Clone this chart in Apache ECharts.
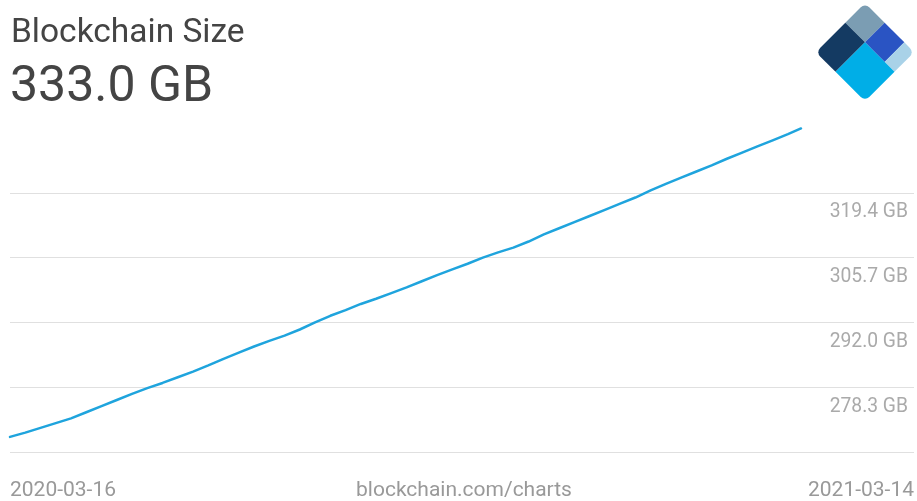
<!DOCTYPE html>
<html>
<head>
<meta charset="utf-8">
<script src="https://cdn.jsdelivr.net/npm/echarts@6/dist/echarts.min.js"></script>
<style>
  html, body { margin: 0; padding: 0; background: #ffffff; }
  #chart { width: 917px; height: 501px; }
</style>
</head>
<body>
<div id="chart"></div>
<script>
// Weekly samples of the Bitcoin blockchain size (GB)
const dates = [
  '2020-03-16', '2020-03-23', '2020-03-30', '2020-04-06', '2020-04-13', '2020-04-20', '2020-04-27',
  '2020-05-04', '2020-05-11', '2020-05-18', '2020-05-25', '2020-06-01', '2020-06-08', '2020-06-15',
  '2020-06-22', '2020-06-29', '2020-07-06', '2020-07-13', '2020-07-20', '2020-07-27', '2020-08-03',
  '2020-08-10', '2020-08-17', '2020-08-24', '2020-08-31', '2020-09-07', '2020-09-14', '2020-09-21',
  '2020-09-28', '2020-10-05', '2020-10-12', '2020-10-19', '2020-10-26', '2020-11-02', '2020-11-09',
  '2020-11-16', '2020-11-23', '2020-11-30', '2020-12-07', '2020-12-14', '2020-12-21', '2020-12-28',
  '2021-01-04', '2021-01-11', '2021-01-18', '2021-01-25', '2021-02-01', '2021-02-08', '2021-02-15',
  '2021-02-22', '2021-03-01', '2021-03-08', '2021-03-14'
];
const sizeGB = [
  267.8, 268.7, 269.7, 270.7, 271.7, 273.0, 274.3,
  275.6, 276.9, 278.1, 279.2, 280.4, 281.6, 282.9,
  284.3, 285.6, 286.9, 288.1, 289.2, 290.5, 292.0,
  293.4, 294.6, 295.9, 297.0, 298.2, 299.4, 300.7,
  302.0, 303.2, 304.4, 305.7, 306.8, 307.8, 309.1,
  310.6, 311.9, 313.2, 314.5, 315.8, 317.1, 318.4,
  319.9, 321.3, 322.6, 323.9, 325.2, 326.6, 327.9,
  329.2, 330.5, 331.8, 333.0
];
// Value-axis gridlines (the lowest one doubles as the baseline) and labelled ticks
const yTicks = [264.6, 278.3, 292.0, 305.7, 319.4];
const yLabelTicks = [278.3, 292.0, 305.7, 319.4];
const yMin = 264.6;
const yMax = 333.1;
const edgeLabels = [dates[0], dates[dates.length - 1]];

const FONT = 'Roboto, "Noto Sans", sans-serif';
const GRID_TOP = 128;
const GRID_BOTTOM = 49;
const lastValue = sizeGB[sizeGB.length - 1];

// Diamond logo built from rectangles in a rotated square frame
const S = 69.5, R = 6;
const logo = {
  type: 'group',
  x: 865,
  y: 3,
  rotation: -Math.PI / 4,
  silent: true,
  children: [
    { type: 'rect', shape: { x: 0, y: 0, width: 0.4 * S, height: 0.4 * S, r: [R, 0, 0, 0] }, style: { fill: '#7b9db3' } },
    { type: 'rect', shape: { x: 0, y: 0.4 * S, width: 0.4 * S, height: 0.6 * S, r: [0, 0, 0, R] }, style: { fill: '#143a62' } },
    { type: 'rect', shape: { x: 0.4 * S, y: 0, width: 0.4 * S, height: 0.4 * S }, style: { fill: '#2a54c3' } },
    { type: 'rect', shape: { x: 0.8 * S, y: 0, width: 0.2 * S, height: 0.4 * S, r: [0, R, 0, 0] }, style: { fill: '#a9d2e8' } },
    { type: 'rect', shape: { x: 0.4 * S, y: 0.4 * S, width: 0.6 * S, height: 0.6 * S, r: [0, 0, R, 0] }, style: { fill: '#00aee7' } }
  ]
};

const chart = echarts.init(document.getElementById('chart'), null, { renderer: 'canvas' });

const option = {
  animation: false,
  backgroundColor: '#ffffff',
  title: [
    {
      text: 'Blockchain Size',
      left: 11,
      top: 17,
      padding: 0,
      textStyle: { fontFamily: FONT, fontSize: 33.5, fontWeight: 'normal', color: '#444444' }
    },
    {
      text: lastValue.toFixed(1) + ' GB',
      left: 10,
      top: 63,
      padding: 0,
      textStyle: { fontFamily: FONT, fontSize: 50, fontWeight: 'normal', color: '#444444' }
    }
  ],
  grid: [
    { left: 10, right: 116, top: GRID_TOP, bottom: GRID_BOTTOM },
    { left: 10, right: 2, top: GRID_TOP, bottom: GRID_BOTTOM }
  ],
  xAxis: [
    { type: 'time', gridIndex: 0, min: dates[0], max: dates[dates.length - 1], show: false },
    {
      type: 'category',
      gridIndex: 1,
      data: edgeLabels,
      boundaryGap: false,
      axisLine: { show: false },
      axisTick: { show: false },
      splitLine: { show: false },
      axisLabel: {
        interval: 0,
        showMinLabel: true,
        showMaxLabel: true,
        alignMinLabel: 'left',
        alignMaxLabel: 'right',
        margin: 28,
        fontFamily: FONT,
        fontSize: 21,
        color: '#999999'
      }
    }
  ],
  yAxis: [
    { type: 'value', gridIndex: 0, min: yMin, max: yMax, show: false },
    {
      type: 'value',
      gridIndex: 1,
      min: yMin,
      max: yMax,
      position: 'right',
      axisLine: { show: false },
      axisTick: { show: false, customValues: yTicks },
      splitLine: { show: true, lineStyle: { color: '#e0e0e0', width: 1 } },
      axisLabel: {
        inside: true,
        customValues: yLabelTicks,
        formatter: v => v.toFixed(1) + ' GB',
        verticalAlign: 'top',
        padding: [10, 0, 0, 0],
        margin: 6,
        fontFamily: FONT,
        fontSize: 19.3,
        color: '#aaaaaa'
      }
    }
  ],
  series: [
    {
      type: 'line',
      xAxisIndex: 0,
      yAxisIndex: 0,
      data: dates.map((d, i) => [d, sizeGB[i]]),
      showSymbol: false,
      silent: true,
      lineStyle: { color: '#1fa4dd', width: 2.5, cap: 'round', join: 'round' }
    }
  ],
  graphic: [
    logo,
    {
      type: 'text',
      x: 464,
      y: 480,
      silent: true,
      style: {
        text: 'blockchain.com/charts',
        fontFamily: FONT,
        fontSize: 21,
        fill: '#999999',
        align: 'center',
        verticalAlign: 'top'
      }
    }
  ]
};

chart.setOption(option);
</script>
</body>
</html>
